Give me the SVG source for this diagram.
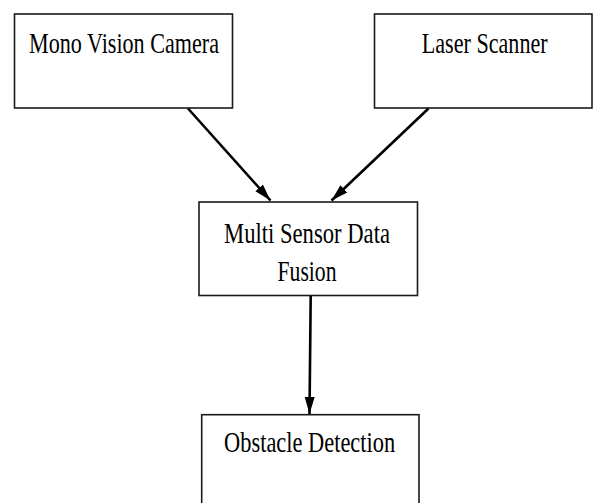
<svg xmlns="http://www.w3.org/2000/svg" width="593" height="503" viewBox="0 0 593 503">
<style>
.box{fill:#fff;stroke:#1a1a1a;stroke-width:1.6}
.lbl{font-family:"Liberation Serif","Times New Roman",serif;font-size:29px;fill:#000;text-anchor:middle}
.con{fill:none;stroke:#000;stroke-width:2.6}
</style>
<defs>
<marker id="ah" markerUnits="userSpaceOnUse" markerWidth="18" markerHeight="12" refX="17" refY="6" orient="auto">
<path d="M0,1 L17,6 L0,11 z" fill="#000"/>
</marker>
</defs>
<rect width="593" height="503" fill="#fff"/>
<g id="mono">
<rect class="box" x="14.5" y="14" width="218" height="94"/>
<text class="lbl" x="124" y="53" textLength="190" lengthAdjust="spacingAndGlyphs">Mono Vision Camera</text>
</g>
<g id="laser">
<rect class="box" x="374.5" y="14" width="217.5" height="94"/>
<text class="lbl" x="484.7" y="52.5" textLength="126" lengthAdjust="spacingAndGlyphs">Laser Scanner</text>
</g>
<g id="fusion">
<rect class="box" x="199" y="202" width="218.5" height="93.5"/>
<text class="lbl" x="307" y="243" textLength="166" lengthAdjust="spacingAndGlyphs">Multi Sensor Data</text>
<text class="lbl" x="307" y="280.7" textLength="59" lengthAdjust="spacingAndGlyphs">Fusion</text>
</g>
<g id="obstacle">
<rect class="box" x="201.7" y="414.7" width="217.3" height="95"/>
<text class="lbl" x="309.6" y="451.7" textLength="171" lengthAdjust="spacingAndGlyphs">Obstacle Detection</text>
</g>
<g id="connectors">
<path class="con" d="M188,108.5 L270.5,200.5" marker-end="url(#ah)"/>
<path class="con" d="M428.5,108.5 L331.5,200.5" marker-end="url(#ah)"/>
<path class="con" d="M310.7,296 L309.5,414" marker-end="url(#ah)"/>
</g>
</svg>
